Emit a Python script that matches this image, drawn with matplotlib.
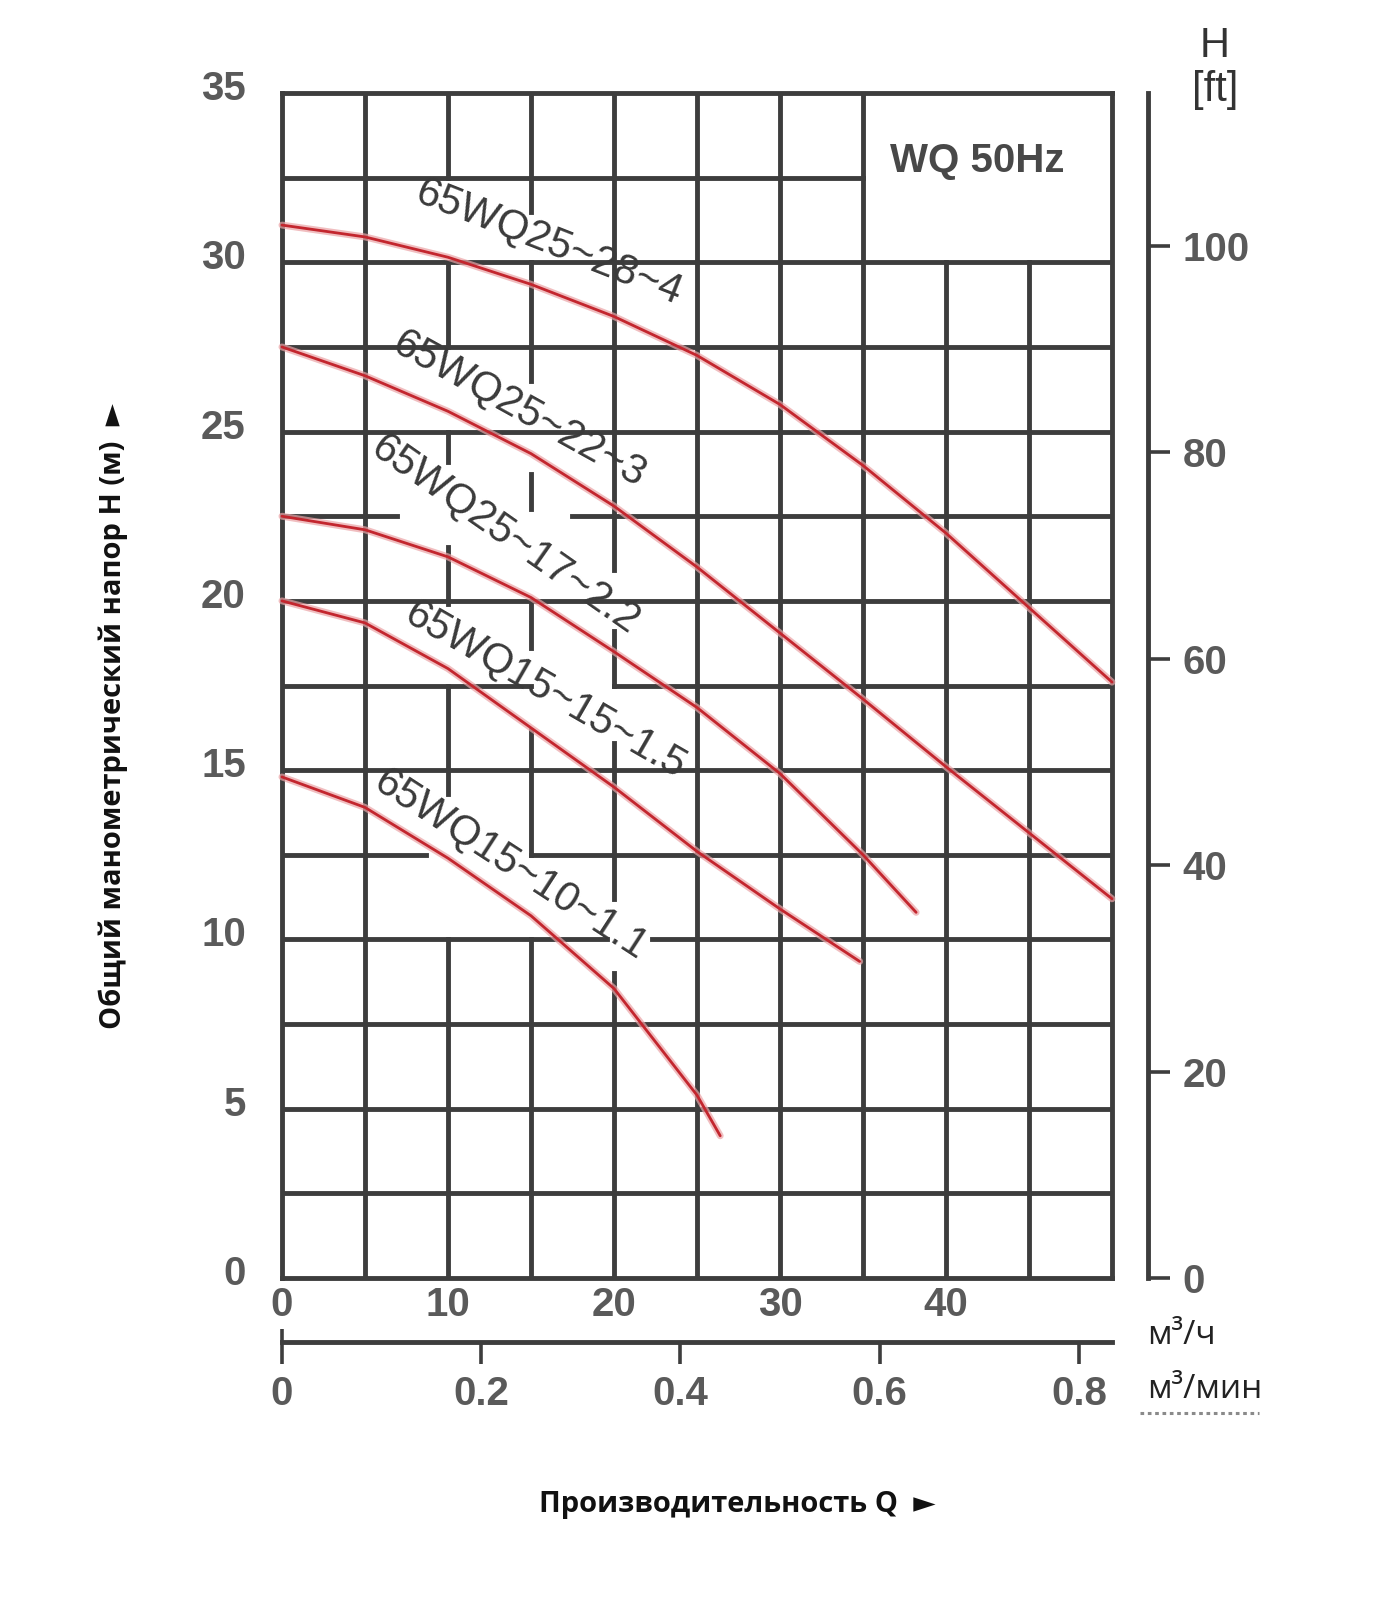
import matplotlib
matplotlib.use("Agg")
import matplotlib.pyplot as plt
import matplotlib.transforms as mtrans
import numpy as np

# ---------------- data ----------------
q_28_4 = [0, 5, 10, 15, 20, 25, 30, 35, 40, 45, 50]
h_28_4 = [31.1, 30.75, 30.15, 29.35, 28.4, 27.25, 25.8, 24.0, 22.0, 19.8, 17.6]

q_22_3 = [0, 5, 10, 15, 20, 25, 30, 35, 40, 45, 50]
h_22_3 = [27.5, 26.65, 25.6, 24.35, 22.8, 21.0, 19.05, 17.1, 15.1, 13.15, 11.2]

q_17_22 = [0, 5, 10, 15, 20, 25, 30, 35, 38.2]
h_17_22 = [22.5, 22.1, 21.3, 20.1, 18.5, 16.85, 14.9, 12.5, 10.8]

q_15_15 = [0, 5, 10, 15, 20, 25, 30, 34.8]
h_15_15 = [20.0, 19.35, 18.0, 16.25, 14.5, 12.6, 10.9, 9.35]

q_15_10 = [0, 5, 10, 15, 20, 25, 26.4]
h_15_10 = [14.8, 13.9, 12.4, 10.7, 8.55, 5.4, 4.2]

model_names = ["65WQ25~28~4", "65WQ25~22~3", "65WQ25~17~2.2",
               "65WQ15~15~1.5", "65WQ15~10~1.1"]

q_ticks = [0, 10, 20, 30, 40]
h_ticks = [0, 5, 10, 15, 20, 25, 30, 35]
ft_ticks = [0, 20, 40, 60, 80, 100]
min_ticks = [0, 0.2, 0.4, 0.6, 0.8]
min_labels = ["0", "0.2", "0.4", "0.6", "0.8"]

title_text = "WQ 50Hz"
xlabel_text = "Производительность Q  \u25BA"
ylabel_text = "Общий манометрический напор H (м)  \u25BA"
unit_h = "м³/ч"
unit_min = "м³/мин"

# ---------------- style ----------------
GRID_C = "#3d3d3d"
GRID_LW = 3.5
TICK_C = "#5a5a5a"
RED = "#c3262e"
HALO = "#eba3a6"
NUM_FONT = ["Liberation Sans", "DejaVu Sans"]
LAB_FONT = ["Open Sans", "DejaVu Sans"]
CURVE_FONT = ["Liberation Sans", "DejaVu Sans"]
NUM_SIZE = 29

plt.rcParams["font.family"] = ["DejaVu Sans"]

fig = plt.figure(figsize=(14, 16), dpi=100)
ax = fig.add_axes([0.2014, 0.20125, 0.5929, 0.7406])
ax.set_xlim(0, 50)
ax.set_ylim(0, 35)

# ---------------- grid with the gaps of the original ----------------
v_gaps = {
    10: [(30, 32.5), (25, 27.5), (21.6, 24.1), (17.5, 19.9), (10, 14.3)],
    15: [(30, 31.5), (23.75, 26.5), (20, 22.7), (16.2, 18.6), (10, 12.5)],
    20: [(19.1, 20.9), (15.8, 17.5), (9.0, 11.2)],
    40: [(30, 35)],
    45: [(30, 35)],
}
h_gaps = {
    32.5: [(35, 50)],
    22.5: [(6.9, 17.5)],
    17.5: [(15, 20)],
    12.5: [(8.7, 15)],
    10: [(19.6, 22.3)],
}


def segments(lo, hi, gaps):
    segs, cur = [], lo
    for a, b in sorted(gaps):
        if a > cur:
            segs.append((cur, a))
        cur = max(cur, b)
    if cur < hi:
        segs.append((cur, hi))
    return segs


for q in np.arange(5, 50, 5):
    for a, b in segments(0, 35, v_gaps.get(int(q), [])):
        ax.plot([q, q], [a, b], color=GRID_C, lw=GRID_LW,
                solid_capstyle="projecting", zorder=1)
for h in np.arange(2.5, 35, 2.5):
    for a, b in segments(0, 50, h_gaps.get(float(h), [])):
        ax.plot([a, b], [h, h], color=GRID_C, lw=GRID_LW,
                solid_capstyle="projecting", zorder=1)

for s in ax.spines.values():
    s.set_linewidth(GRID_LW)
    s.set_color(GRID_C)
    s.set_zorder(2)

# ---------------- curves ----------------
curves = [(q_28_4, h_28_4), (q_22_3, h_22_3), (q_17_22, h_17_22),
          (q_15_15, h_15_15), (q_15_10, h_15_10)]
for qv, hv in curves:
    ax.plot(qv, hv, color=HALO, lw=5.0, alpha=0.7, zorder=3,
            solid_capstyle="round", solid_joinstyle="round", clip_on=False)
    ax.plot(qv, hv, color=RED, lw=2.0, zorder=4,
            solid_capstyle="round", solid_joinstyle="round", clip_on=False)

label_layout = [(16.1, 30.6, -21.5), (14.3, 25.65, -29), (13.5, 21.95, -35),
                (15.9, 17.35, -30), (13.8, 12.2, -33)]
for name, (lq, lh, rot) in zip(model_names, label_layout):
    ax.text(lq, lh, name, rotation=rot, rotation_mode="anchor",
            ha="center", va="center", fontsize=30, color="#3a3a3a",
            family=CURVE_FONT, zorder=5)

ax.text(41.9, 33.0, title_text, ha="center", va="center", fontsize=29,
        fontweight="bold", color="#484848", family=CURVE_FONT, zorder=5)

# ---------------- main ticks ----------------
ax.set_xticks(q_ticks)
ax.set_xticklabels([str(v) for v in q_ticks])
ax.set_yticks(h_ticks)
ax.set_yticklabels([str(v) for v in h_ticks])
ax.tick_params(axis="both", length=0, labelsize=NUM_SIZE, labelcolor=TICK_C)
ax.tick_params(axis="y", pad=26)
ax.tick_params(axis="x", pad=6)
up = mtrans.ScaledTranslation(0, 8 / 100.0, fig.dpi_scale_trans)
for lab in ax.get_xticklabels() + ax.get_yticklabels():
    lab.set_fontfamily(NUM_FONT)
    lab.set_fontweight("bold")
for lab in ax.get_yticklabels():
    lab.set_transform(lab.get_transform() + up)

# ---------------- feet axis ----------------
ax2 = ax.twinx()
ax2.set_ylim(0, 35 / 0.3048)
for s in ["top", "left", "bottom"]:
    ax2.spines[s].set_visible(False)
ax2.spines["right"].set_position(("outward", 26))
ax2.spines["right"].set_linewidth(GRID_LW)
ax2.spines["right"].set_color(GRID_C)
ax2.set_yticks(ft_ticks)
ax2.set_yticklabels([str(v) for v in ft_ticks])
ax2.tick_params(axis="y", direction="out", length=16, width=2.6,
                color=GRID_C, pad=9, labelsize=NUM_SIZE, labelcolor=TICK_C)
for lab in ax2.get_yticklabels():
    lab.set_fontfamily(NUM_FONT)
    lab.set_fontweight("bold")

# ---------------- m3/min axis ----------------
loc = -0.054
sec = ax.secondary_xaxis(loc, functions=(lambda q: q / 60.0, lambda m: m * 60.0))
sec.set_xticks(min_ticks)
sec.set_xticklabels(min_labels)
sec.tick_params(direction="out", length=16, width=2.6, color=GRID_C,
                pad=8, labelsize=NUM_SIZE, labelcolor=TICK_C)
for lab in sec.get_xticklabels():
    lab.set_fontfamily(NUM_FONT)
    lab.set_fontweight("bold")
sec.spines["bottom"].set_linewidth(GRID_LW)
sec.spines["bottom"].set_color(GRID_C)
ax.plot([0, 0], [loc, loc + 0.0112], transform=ax.get_xaxis_transform(),
        color=GRID_C, lw=2.6, clip_on=False, solid_capstyle="butt")

# ---------------- texts around ----------------
fig.text(0.8679, 0.9712, "H", ha="center", va="center", fontsize=30,
         color="#333333", family=CURVE_FONT)
fig.text(0.8679, 0.9437, "[ft]", ha="center", va="center", fontsize=30,
         color="#333333", family=CURVE_FONT)

fig.text(0.8193, 0.1656, unit_h, ha="left", va="center", fontsize=24,
         color="#222222", family=LAB_FONT)
fig.text(0.8193, 0.1313, unit_min, ha="left", va="center", fontsize=24,
         color="#222222", family=LAB_FONT)
fig.add_artist(plt.Line2D([0.8143, 0.8993], [0.1169, 0.1169],
                          transform=fig.transFigure, color="#8a8a8a",
                          lw=2.2, ls=(0, (1.2, 1.2))))

fig.text(0.5264, 0.0594, xlabel_text, ha="center", va="center", fontsize=21,
         fontweight="bold", color="#111111", family=LAB_FONT)
fig.text(0.081, 0.5525, ylabel_text, ha="center", va="center", fontsize=21,
         fontweight="bold", color="#111111", family=LAB_FONT, rotation=90)

fig.savefig("out.png", dpi=100, facecolor="white")
